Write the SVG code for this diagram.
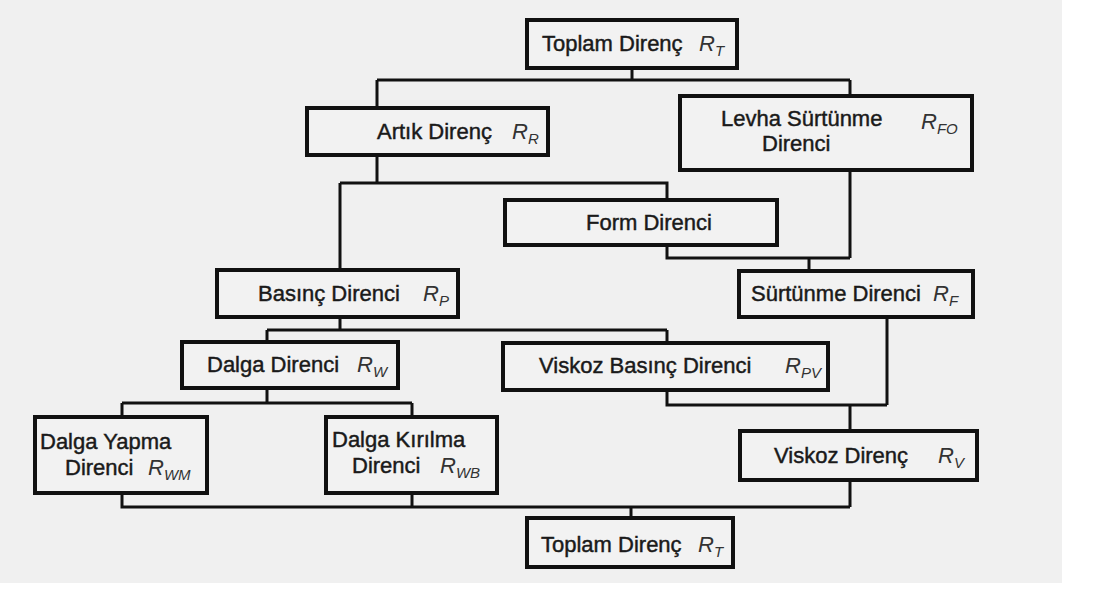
<svg xmlns="http://www.w3.org/2000/svg" width="1096" height="599" viewBox="0 0 1096 599">
<style>
.box{fill:#f2f2f2;stroke:#111;stroke-width:4}
.con{fill:none;stroke:#111;stroke-width:3}
.t{font-family:"Liberation Sans",Arial,sans-serif;font-size:22px;fill:#1a1a1a;stroke:#1a1a1a;stroke-width:0.45}
.r{font-family:"Liberation Sans",Arial,sans-serif;font-size:22px;font-style:italic;fill:#333}
.s{font-size:15px}
</style>
<rect x="0" y="0" width="1096" height="599" fill="#ffffff"/>
<rect x="0" y="0" width="1062" height="583" fill="#f0f0f0"/>
<g id="connectors" class="con">
<path d="M632,68 V80 M377,80 H850 M377,80 V108 M850,80 V96"/>
<path d="M377,155 V183 M340,183 H667 V200 M340,183 V270"/>
<path d="M667,245 V258 H850 M850,170 V258 M809,258 V271"/>
<path d="M340,317 V330 M267,330 H667 M267,330 V342 M667,330 V343"/>
<path d="M267,388 V403 M122,403 H412 M122,403 V417 M412,403 V417"/>
<path d="M667,390 V405 H887 M887,317 V405 M850,405 V431"/>
<path d="M850,480 V507 M122,493 V507 H850 M412,493 V507 M631,507 V518"/>
</g>
<g id="toplam-top"><rect class="box" x="527" y="20" width="210" height="48"/><text class="t" x="542" y="51">Toplam Direnç</text><text class="r" x="699" y="51">R<tspan class="s" dy="5">T</tspan></text></g>
<g id="artik"><rect class="box" x="307" y="108" width="241" height="47"/><text class="t" x="377" y="139">Artık Direnç</text><text class="r" x="512" y="139">R<tspan class="s" dy="5">R</tspan></text></g>
<g id="levha"><rect class="box" x="680" y="96" width="292" height="74"/><text class="t" x="721" y="126">Levha Sürtünme</text><text class="t" x="762" y="151">Direnci</text><text class="r" x="921" y="129">R<tspan class="s" dy="5">FO</tspan></text></g>
<g id="form"><rect class="box" x="505" y="200" width="272" height="45"/><text class="t" x="586" y="230">Form Direnci</text></g>
<g id="surtunme"><rect class="box" x="739" y="271" width="234" height="46"/><text class="t" x="751" y="301">Sürtünme Direnci</text><text class="r" x="933" y="301">R<tspan class="s" dy="5">F</tspan></text></g>
<g id="basinc"><rect class="box" x="217" y="270" width="241" height="47"/><text class="t" x="258" y="301">Basınç Direnci</text><text class="r" x="423" y="301">R<tspan class="s" dy="5">P</tspan></text></g>
<g id="dalga"><rect class="box" x="182" y="342" width="216" height="46"/><text class="t" x="207" y="372">Dalga Direnci</text><text class="r" x="357" y="372">R<tspan class="s" dy="5">W</tspan></text></g>
<g id="viskoz-basinc"><rect class="box" x="503" y="343" width="325" height="47"/><text class="t" x="539" y="373">Viskoz Basınç Direnci</text><text class="r" x="785" y="373">R<tspan class="s" dy="5">PV</tspan></text></g>
<g id="dalga-yapma"><rect class="box" x="35" y="417" width="172" height="76"/><text class="t" x="40" y="449">Dalga Yapma</text><text class="t" x="65" y="475">Direnci</text><text class="r" x="148" y="475">R<tspan class="s" dy="5">WM</tspan></text></g>
<g id="dalga-kirilma"><rect class="box" x="326" y="417" width="171" height="76"/><text class="t" x="332" y="447">Dalga Kırılma</text><text class="t" x="352" y="473">Direnci</text><text class="r" x="440" y="473">R<tspan class="s" dy="5">WB</tspan></text></g>
<g id="viskoz"><rect class="box" x="740" y="431" width="237" height="49"/><text class="t" x="774" y="463">Viskoz Direnç</text><text class="r" x="938" y="463">R<tspan class="s" dy="5">V</tspan></text></g>
<g id="toplam-bottom"><rect class="box" x="527" y="518" width="206" height="49"/><text class="t" x="541" y="552">Toplam Direnç</text><text class="r" x="698" y="552">R<tspan class="s" dy="5">T</tspan></text></g>
</svg>
